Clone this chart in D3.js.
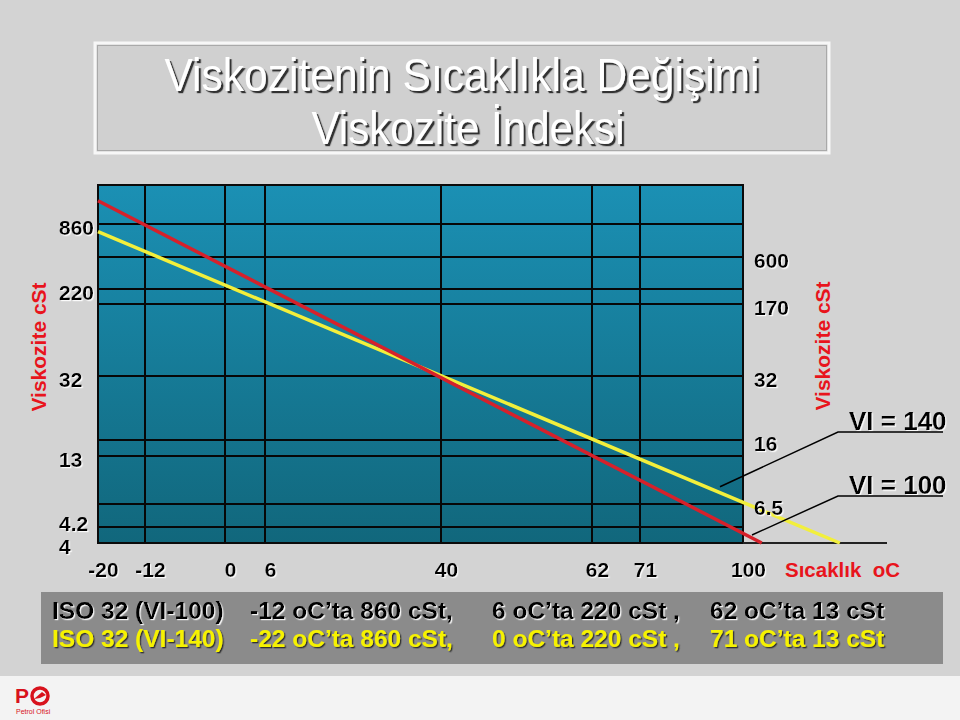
<!DOCTYPE html>
<html><head><meta charset="utf-8">
<script src="https://cdn.jsdelivr.net/npm/d3@7"></script>
<style>
html,body{margin:0;padding:0;background:#d3d3d3;}
svg{display:block;font-family:"Liberation Sans",Arial,sans-serif;}
</style></head><body>
<svg id="chart" width="960" height="720"></svg>
<script>
// ---------------- data ----------------
const titleLines = ["Viskozitenin Sıcaklıkla Değişimi", "Viskozite İndeksi"];
const tempTicks = [-20, -12, 0, 6, 40, 62, 71, 100];
const viscLeftTicks = [860, 220, 32, 13, 4.2, 4];
const viscRightTicks = [600, 170, 32, 16, 6.5];
const axisTitleY = "Viskozite cSt";
const axisTitleX = "Sıcaklık  oC";
const vi100Temps = [-12, 6, 40, 62];
const vi100Visc = [860, 220, 32, 13];
const vi140Temps = [-22, 0, 40, 71, 100];
const vi140Visc = [860, 220, 32, 13, 6.5];
const viLabels = ["VI = 140", "VI = 100"];
const legendRow100 = ["ISO 32 (VI-100)", "-12 oC’ta 860 cSt,", "6 oC’ta 220 cSt ,", "62 oC’ta 13 cSt"];
const legendRow140 = ["ISO 32 (VI-140)", "-22 oC’ta 860 cSt,", "0 oC’ta 220 cSt ,", "71 oC’ta 13 cSt"];

// ---------------- layout ----------------
const svg = d3.select("#chart");
const FONT = "'Liberation Sans', Arial, sans-serif";
const defs = svg.append("defs");
const grad = defs.append("linearGradient").attr("id", "plotGrad")
  .attr("x1", 0).attr("y1", 0).attr("x2", 0).attr("y2", 1);
grad.append("stop").attr("offset", "0%").attr("stop-color", "#1b90b4");
grad.append("stop").attr("offset", "100%").attr("stop-color", "#11677c");

function shadow(id, dx, dy, color, op) {
  const f = defs.append("filter").attr("id", id)
    .attr("x", "-5%").attr("y", "-20%").attr("width", "115%").attr("height", "150%");
  f.append("feDropShadow").attr("dx", dx).attr("dy", dy).attr("stdDeviation", 0.2)
    .attr("flood-color", color).attr("flood-opacity", op);
}
shadow("darkShadow", 2.2, 2.2, "#333333", 1);
shadow("darkShadowSmall", 1.3, 1.3, "#303030", 1);
shadow("lightShadow", 1.2, 1.2, "#ffffff", 0.9);

svg.append("rect").attr("width", 960).attr("height", 720).attr("fill", "#d3d3d3");
svg.append("rect").attr("x", 0).attr("y", 676).attr("width", 960).attr("height", 44).attr("fill", "#f3f3f3");

// title box
svg.append("rect").attr("x", 95).attr("y", 43).attr("width", 734).attr("height", 110)
  .attr("fill", "#d0d0d0").attr("stroke", "#f7f7f7").attr("stroke-width", 3);
svg.append("rect").attr("x", 97.5).attr("y", 45.5).attr("width", 729).attr("height", 105)
  .attr("fill", "none").attr("stroke", "#a9a9a9").attr("stroke-width", 1);
const titleSpec = [{x: 462, y: 91, w: 595}, {x: 468, y: 144, w: 313}];
svg.selectAll("text.title").data(titleLines).join("text").attr("class", "title")
  .attr("x", (d, i) => titleSpec[i].x).attr("y", (d, i) => titleSpec[i].y)
  .attr("text-anchor", "middle").attr("font-size", 46).attr("font-family", FONT)
  .attr("fill", "#ffffff").attr("filter", "url(#darkShadow)")
  .attr("textLength", (d, i) => titleSpec[i].w).attr("lengthAdjust", "spacingAndGlyphs")
  .text(d => d);

// plot
const plot = {left: 98, top: 185, right: 743, bottom: 543};
const x = d3.scaleLinear().domain(tempTicks)
  .range([0, 47, 127, 167, 343, 494, 542, 645].map(d => plot.left + d));
const viscGrid = Array.from(new Set([...viscLeftTicks, ...viscRightTicks])).sort((a, b) => b - a);
const y = d3.scaleLinear().domain(viscGrid)
  .range([39, 72, 104, 119, 191, 255, 271, 319, 342, 358].map(d => plot.top + d));

svg.append("rect").attr("x", plot.left).attr("y", plot.top)
  .attr("width", plot.right - plot.left).attr("height", plot.bottom - plot.top)
  .attr("fill", "url(#plotGrad)");

const grid = svg.append("g").attr("stroke", "#070707").attr("stroke-width", 2);
grid.selectAll("line.v").data(tempTicks).join("line").attr("class", "v")
  .attr("x1", d => x(d)).attr("x2", d => x(d)).attr("y1", plot.top).attr("y2", plot.bottom);
grid.selectAll("line.h").data(viscGrid).join("line").attr("class", "h")
  .attr("x1", plot.left).attr("x2", plot.right).attr("y1", d => y(d)).attr("y2", d => y(d));
svg.append("rect").attr("x", plot.left).attr("y", plot.top)
  .attr("width", plot.right - plot.left).attr("height", plot.bottom - plot.top)
  .attr("fill", "none").attr("stroke", "#0a0a0a").attr("stroke-width", 2);
svg.append("line").attr("x1", plot.right).attr("x2", 887)
  .attr("y1", y(4)).attr("y2", y(4)).attr("stroke", "#222").attr("stroke-width", 2);

// fitted straight lines
function fit(temps, viscs) {
  const pts = temps.map((t, i) => [x(t), y(viscs[i])]);
  const mx = d3.mean(pts, p => p[0]), my = d3.mean(pts, p => p[1]);
  const sxy = d3.sum(pts, p => (p[0] - mx) * (p[1] - my));
  const sxx = d3.sum(pts, p => (p[0] - mx) ** 2);
  const m = sxy / sxx, b = my - m * mx;
  return {m, b, at: px => m * px + b, xAt: py => (py - b) / m};
}
const f100 = fit(vi100Temps, vi100Visc);
const f140 = fit(vi140Temps, vi140Visc);
const lineGen = d3.line();
[[f140, "#f2ef3c"], [f100, "#d6212b"]].forEach(([f, c]) => {
  const x0 = plot.left, x1 = f.xAt(plot.bottom);
  svg.append("path").attr("d", lineGen([[x0, f.at(x0)], [x1, plot.bottom]]))
    .attr("fill", "none").attr("stroke", c).attr("stroke-width", 3.5);
});

// axes labels
function styleAxis(g) {
  g.select(".domain").remove();
  g.attr("font-size", 21).attr("font-family", FONT).attr("font-weight", "bold");
  g.selectAll("text").attr("fill", "#000").attr("filter", "url(#lightShadow)");
}
function vDy(ticks) {
  // labels sit just below their line; a label crowded by the next one below is lifted
  return d => {
    const below = ticks.filter(t => y(t) > y(d)).map(t => y(t) - y(d));
    return below.length && d3.min(below) < 20 ? "0.15em" : "0.48em";
  };
}
svg.append("g").attr("transform", "translate(59,0)")
  .call(d3.axisRight(y).tickValues(viscLeftTicks).tickSize(0).tickPadding(0).tickFormat(d => String(d)))
  .call(styleAxis).selectAll("text").attr("dy", vDy(viscLeftTicks));
svg.append("g").attr("transform", "translate(754,0)")
  .call(d3.axisRight(y).tickValues(viscRightTicks).tickSize(0).tickPadding(0).tickFormat(d => String(d)))
  .call(styleAxis).selectAll("text").attr("dy", vDy(viscRightTicks));
svg.append("g").attr("transform", "translate(5,562)")
  .call(d3.axisBottom(x).tickValues(tempTicks).tickSize(0).tickPadding(0).tickFormat(d => String(d)))
  .call(styleAxis);

const RED = "#e8141c";
svg.append("text").attr("x", 785).attr("y", 577).attr("font-size", 20.5).attr("font-weight", "bold")
  .attr("font-family", FONT).attr("fill", RED).style("white-space", "pre").text(axisTitleX);
[[46, 347], [830, 346]].forEach(([tx, ty]) => {
  svg.append("text").attr("transform", `translate(${tx},${ty}) rotate(-90)`)
    .attr("text-anchor", "middle").attr("font-size", 21).attr("font-weight", "bold")
    .attr("font-family", FONT).attr("fill", RED).text(axisTitleY);
});

// VI annotations
const viSpec = [
  {tx: 849, ty: 430, target: [720, f140.at(720) - 6]},
  {tx: 849, ty: 494, target: [752, f100.at(752) - 3]}
];
viLabels.forEach((lab, i) => {
  const s = viSpec[i];
  svg.append("text").attr("x", s.tx).attr("y", s.ty).attr("font-size", 26).attr("font-weight", "bold")
    .attr("font-family", FONT).attr("fill", "#000").attr("filter", "url(#lightShadow)").text(lab);
  svg.append("path").attr("d", lineGen([s.target, [838, s.ty + 2], [943, s.ty + 2]]))
    .attr("fill", "none").attr("stroke", "#000").attr("stroke-width", 1.5);
});

// legend box
svg.append("rect").attr("x", 41).attr("y", 592).attr("width", 902).attr("height", 72).attr("fill", "#8b8b8b");
const segX = [52, 250, 492, 710];
[[legendRow100, 619, "#000000", "url(#lightShadow)"], [legendRow140, 647, "#f6f200", "url(#darkShadowSmall)"]]
  .forEach(([row, ty, col, filt]) => {
    svg.append("g").selectAll("text").data(row).join("text")
      .attr("x", (d, i) => segX[i]).attr("y", ty)
      .attr("font-size", 24.5).attr("font-weight", "bold").attr("font-family", FONT)
      .attr("fill", col).attr("filter", filt).text(d => d);
  });

// logo
const logo = svg.append("g");
logo.append("text").attr("x", 15).attr("y", 703).attr("font-size", 21).attr("font-weight", "bold")
  .attr("font-family", FONT).attr("fill", "#d8121c").text("P");
logo.append("circle").attr("cx", 40).attr("cy", 696).attr("r", 8).attr("fill", "none")
  .attr("stroke", "#d8121c").attr("stroke-width", 3.5);
logo.append("path").attr("d", "M34,699 L42,692 L46,695 L40,698 Z").attr("fill", "#d8121c");
logo.append("text").attr("x", 16).attr("y", 714).attr("font-size", 7).attr("font-family", FONT)
  .attr("fill", "#d8121c").text("Petrol Ofisi");
</script>
</body></html>
